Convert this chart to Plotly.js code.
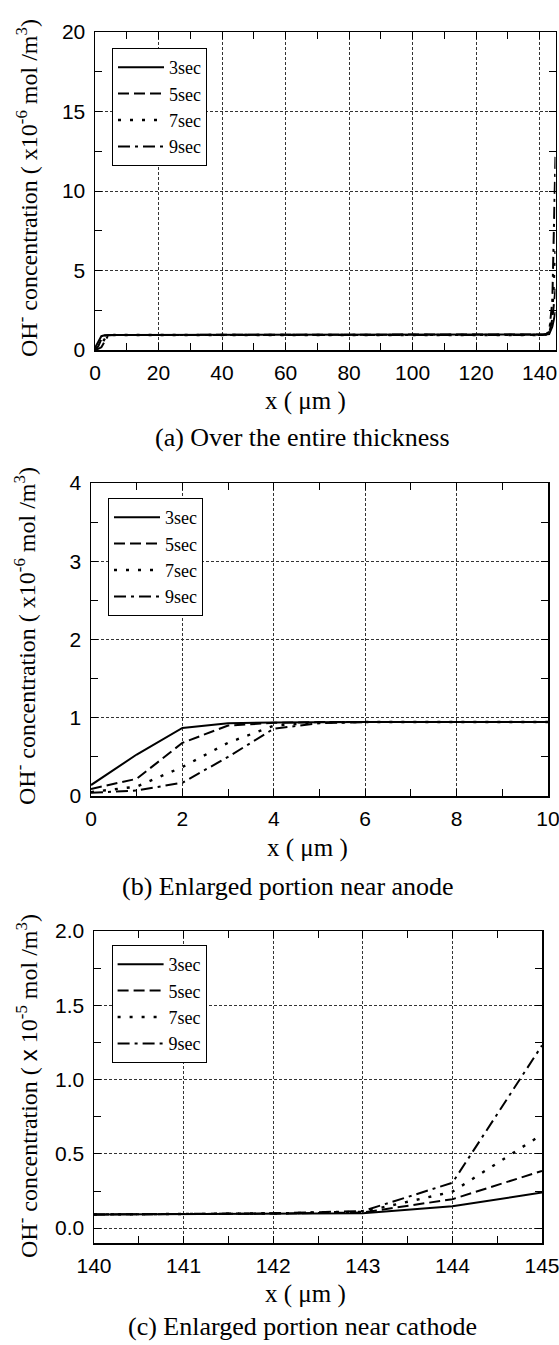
<!DOCTYPE html>
<html><head><meta charset="utf-8">
<script src="https://cdn.plot.ly/plotly-3.0.1.min.js"></script>
<style>html,body{margin:0;padding:0;background:#fff}</style>
</head><body><div id="chart" style="width:559px;height:1345px"></div>
<script>
// ---------- data ----------
const seriesNames = ['3sec', '5sec', '7sec', '9sec'];

// (a) Over the entire thickness  (x10^-6 mol/m^3)
const xA  = [0, 1, 2, 3, 4, 5, 6, 10, 20, 40, 60, 80, 100, 120, 140, 141, 142, 143, 144, 145];
const a3s = [0.14, 0.53, 0.87, 0.93, 0.94, 0.945, 0.945, 0.945, 0.945, 0.945, 0.945, 0.945, 0.945, 0.945, 0.94, 0.94, 0.97, 1.00, 1.47, 2.40];
const a5s = [0.09, 0.22, 0.68, 0.90, 0.935, 0.945, 0.945, 0.945, 0.945, 0.945, 0.945, 0.945, 0.945, 0.945, 0.94, 0.94, 0.98, 1.05, 1.95, 3.85];
const a7s = [0.05, 0.12, 0.37, 0.68, 0.90, 0.94, 0.945, 0.945, 0.945, 0.945, 0.945, 0.945, 0.945, 0.945, 0.94, 0.94, 0.99, 1.10, 2.45, 6.30];
const a9s = [0.04, 0.07, 0.17, 0.50, 0.86, 0.93, 0.945, 0.945, 0.945, 0.945, 0.945, 0.945, 0.945, 0.945, 0.94, 0.95, 1.00, 1.15, 3.05, 12.30];

// (b) Enlarged portion near anode (x10^-6 mol/m^3)
const xB  = [0, 1, 2, 3, 4, 5, 6, 7, 8, 9, 10];
const b3s = [0.14, 0.53, 0.87, 0.93, 0.94, 0.945, 0.945, 0.945, 0.945, 0.945, 0.945];
const b5s = [0.09, 0.22, 0.68, 0.90, 0.935, 0.945, 0.945, 0.945, 0.945, 0.945, 0.945];
const b7s = [0.05, 0.12, 0.37, 0.68, 0.90, 0.94, 0.945, 0.945, 0.945, 0.945, 0.945];
const b9s = [0.04, 0.07, 0.17, 0.50, 0.86, 0.93, 0.945, 0.945, 0.945, 0.945, 0.945];

// (c) Enlarged portion near cathode (x10^-5 mol/m^3)
const xC  = [140, 141, 142, 143, 144, 145];
const c3s = [0.092, 0.094, 0.097, 0.100, 0.147, 0.240];
const c5s = [0.092, 0.094, 0.098, 0.105, 0.195, 0.385];
const c7s = [0.092, 0.094, 0.099, 0.110, 0.245, 0.630];
const c9s = [0.092, 0.095, 0.100, 0.115, 0.305, 1.230];

const captions = ['(a) Over the entire thickness', '(b) Enlarged portion near anode', '(c) Enlarged portion near cathode'];
const xTitle = 'x ( \u03bcm )';
const yTitles = [
  'OH<sup>-</sup> concentration ( x10<sup>-6</sup> mol /m<sup>3</sup>)',
  'OH<sup>-</sup> concentration ( x10<sup>-6</sup> mol /m<sup>3</sup>)',
  'OH<sup>-</sup> concentration ( <span style="font-family:Liberation Sans">x</span> 10<sup>-5</sup> mol /m<sup>3</sup>)'
];

// ---------- styling ----------
const SERIF = 'Liberation Serif, Times New Roman, serif';
const SANS = 'Liberation Sans, Arial, sans-serif';
const dashes = ['solid', '11px,5px', '3px,9px', '12px,5px,3px,5px'];
const W = 559, H = 1345;

const panels = [
  {x: xA, ys: [a3s, a5s, a7s, a9s], px: [95, 555.5], py: [32, 350], xr: [0, 145], yr: [0, 20], xd: 20, xm: 10, yd: 5, ym: 2.5, yfmt: '', leg: [112, 48], yt: [27, 188], xt: [305, 401], cap: [302, 437]},
  {x: xB, ys: [b3s, b5s, b7s, b9s], px: [91, 548], py: [483, 796], xr: [0, 10], yr: [0, 4], xd: 2, xm: 1, yd: 1, ym: 0.5, yfmt: '', leg: [108, 498], yt: [25, 636], xt: [307, 848], cap: [288, 887]},
  {x: xC, ys: [c3s, c5s, c7s, c9s], px: [94, 542], py: [931, 1243], xr: [140, 145], yr: [-0.1, 2.0], xd: 1, xm: 0.5, yd: 0.5, ym: 0.25, yfmt: '.1f', leg: [111.6, 945], yt: [27, 1086], xt: [305, 1294], cap: [302, 1326]}
];

const traces = [];
const layout = {
  width: W, height: H, autosize: false,
  margin: {l: 0, r: 0, t: 0, b: 0},
  paper_bgcolor: '#fff', plot_bgcolor: '#fff',
  font: {family: SERIF, color: '#000'},
  annotations: [],
  showlegend: true
};

panels.forEach((p, i) => {
  const sfx = i === 0 ? '' : String(i + 1);
  const legName = 'legend' + sfx;
  p.ys.forEach((ys, k) => {
    traces.push({
      type: 'scatter', mode: 'lines', x: p.x, y: ys, name: seriesNames[k],
      xaxis: 'x' + sfx, yaxis: 'y' + sfx, legend: legName,
      line: {color: '#000', width: k === 2 ? 2.4 : 2, dash: dashes[k]},
      hoverinfo: 'skip', cliponaxis: true
    });
  });
  const common = {
    showline: true, linecolor: '#000', linewidth: 1.5, mirror: 'ticks',
    ticks: 'inside', ticklen: 7, tickwidth: 1, tickcolor: '#000',
    showgrid: true, gridcolor: '#333', gridwidth: 1, griddash: '3px,2px',
    zeroline: false, fixedrange: true,
    tickfont: {family: SANS, size: 21, color: '#000'}
  };
  layout['xaxis' + sfx] = Object.assign({}, common, {
    domain: [p.px[0] / W, p.px[1] / W], range: p.xr, anchor: 'y' + sfx,
    tickmode: 'linear', tick0: p.xr[0], dtick: p.xd,
    minor: {dtick: p.xm, ticks: 'inside', ticklen: 7, tickwidth: 1, tickcolor: '#000', showgrid: false},
    ticklabelstandoff: 3, ticklabeloverflow: 'allow'
  });
  layout['yaxis' + sfx] = Object.assign({}, common, {
    domain: [1 - p.py[1] / H, 1 - p.py[0] / H], range: p.yr, anchor: 'x' + sfx,
    tickmode: 'linear', tick0: 0, dtick: p.yd, tickformat: p.yfmt,
    minor: {dtick: p.ym, tick0: 0, ticks: 'inside', ticklen: 7, tickwidth: 1, tickcolor: '#000', showgrid: false},
    ticklabelstandoff: 4, ticklabeloverflow: 'allow'
  });
  layout[legName] = {
    x: p.leg[0] / W, y: 1 - p.leg[1] / H, xanchor: 'left', yanchor: 'top',
    bgcolor: '#fff', bordercolor: '#000', borderwidth: 1,
    font: {family: SERIF, size: 18, color: '#000'},
    itemwidth: 46, tracegroupgap: 0
  };
  layout.annotations.push(
    {text: yTitles[i], xref: 'paper', yref: 'paper', x: p.yt[0] / W, y: 1 - p.yt[1] / H,
     xanchor: 'center', yanchor: 'middle', textangle: -90, showarrow: false,
     font: {family: SERIF, size: 24, color: '#000'}},
    {text: xTitle, xref: 'paper', yref: 'paper', x: p.xt[0] / W, y: 1 - p.xt[1] / H,
     xanchor: 'center', yanchor: 'middle', showarrow: false,
     font: {family: SERIF, size: 25, color: '#000'}},
    {text: captions[i], xref: 'paper', yref: 'paper', x: p.cap[0] / W, y: 1 - p.cap[1] / H,
     xanchor: 'center', yanchor: 'middle', showarrow: false,
     font: {family: SERIF, size: 26, color: '#000'}}
  );
});

Plotly.newPlot('chart', traces, layout, {staticPlot: true, displayModeBar: false});
</script>
</body></html>
